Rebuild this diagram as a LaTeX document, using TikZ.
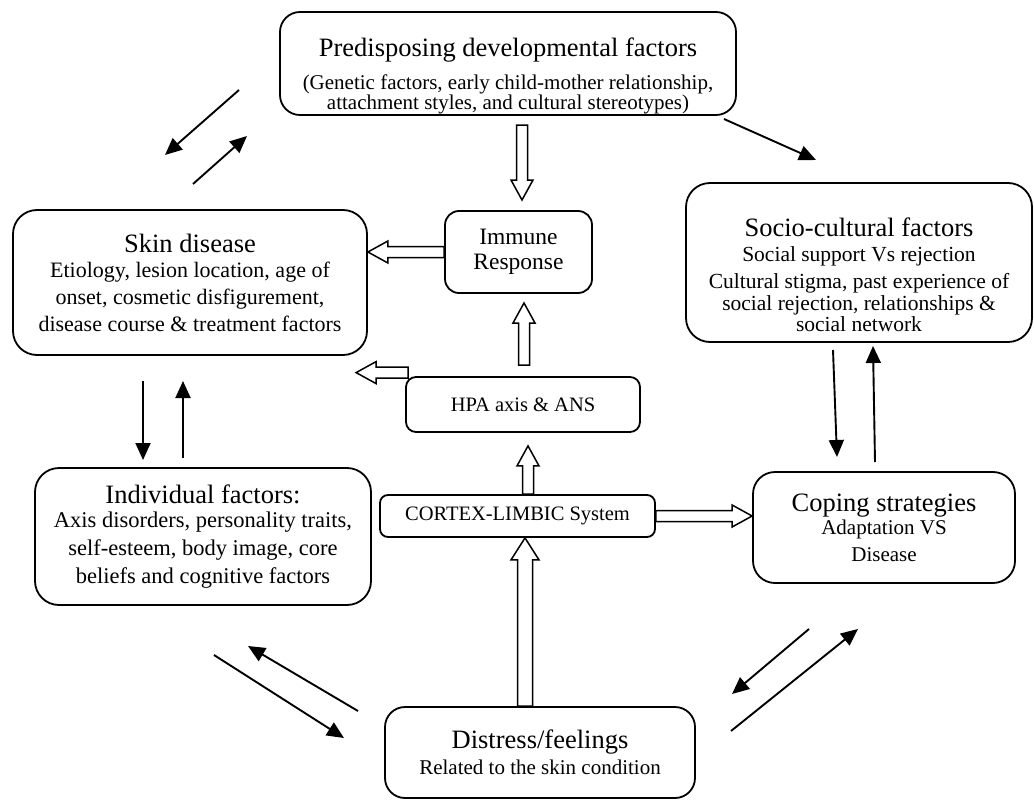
\documentclass[tikz,border=0pt]{standalone}
\usepackage{fontspec}
\setmainfont{Liberation Serif}
\usetikzlibrary{arrows.meta,calc}

\newcommand{\headfont}{\fontsize{26.5}{30}\selectfont}
% outlined block arrow: shaft half width #1, head half width #2, head length #3, tail #4, tip #5
\newcommand{\blockarrw}[5]{%
  \coordinate (ba) at ($(#5)!#3!(#4)$);
  \path[blockarrow] ($(#4)!#1!90:(#5)$) -- ($(ba)!#1!90:(#5)$) -- ($(ba)!#2!90:(#5)$) -- (#5)
    -- ($(ba)!#2!-90:(#5)$) -- ($(ba)!#1!-90:(#5)$) -- ($(#4)!#1!-90:(#5)$) -- cycle;}
\newcommand{\blockarr}[2]{\blockarrw{5.5pt}{11pt}{20pt}{#1}{#2}}

\begin{document}
\begin{tikzpicture}[x=1pt,y=1pt]
        \tikzstyle{factor}=[draw, line width=1.8pt, align=center, inner sep=0pt]
        \tikzstyle{edge}=[draw, line width=1.9pt, -{Triangle[length=17pt,width=15pt]}]
        \tikzstyle{blockarrow}=[draw, line width=1.5pt, fill=white, line join=miter]
        \fill[white] (0,0) rectangle (1034,-800);
        \useasboundingbox (0,0) rectangle (1034,-800);

        % boxes
        \node [factor, minimum width=456pt, minimum height=103pt, rounded corners=20pt, font=\fontsize{21}{19}\selectfont] (pre) at (508,-63.5)
          {\headfont\rule{0pt}{44pt}Predisposing developmental factors\\[11pt] (Genetic factors, early child-mother relationship,\\ attachment styles, and cultural stereotypes)};
        \node [factor, minimum width=354pt, minimum height=145pt, rounded corners=24pt, font=\fontsize{22}{27}\selectfont] (skin) at (190,-282.5)
          {{\headfont Skin disease}\\[-2pt] Etiology, lesion location, age of\\ onset, cosmetic disfigurement,\\ disease course \& treatment factors};
        \node [factor, minimum width=147pt, minimum height=82pt, rounded corners=14pt, font=\fontsize{23.5}{25}\selectfont] (immune) at (518.5,-252)
          {Immune\\ Response};
        \node [factor, minimum width=346pt, minimum height=159pt, rounded corners=24pt, font=\fontsize{21.5}{21.5}\selectfont] (socio) at (859,-262.5)
          {\headfont\rule{0pt}{44pt}Socio-cultural factors\\[3.5pt] Social support Vs rejection\\[5.5pt] Cultural stigma, past experience of\\ social rejection, relationships \&\\ social network};
        \node [factor, minimum width=234pt, minimum height=55pt, rounded corners=10pt, font=\fontsize{20.5}{24}\selectfont] (hpa) at (523,-404.5)
          {HPA axis \& ANS};
        \node [factor, minimum width=275pt, minimum height=42pt, rounded corners=8pt, font=\fontsize{20.5}{24}\selectfont] (cortex) at (517.5,-516)
          {CORTEX-LIMBIC System};
        \node [factor, minimum width=336pt, minimum height=137pt, rounded corners=24pt, font=\fontsize{22.5}{28}\selectfont] (indiv) at (203,-536.5)
          {{\headfont Individual factors:}\\[-4.5pt] Axis disorders, personality traits,\\ self-esteem, body image, core\\ beliefs and cognitive factors};
        \node [factor, minimum width=262pt, minimum height=111pt, rounded corners=22pt, font=\fontsize{21}{27}\selectfont] (coping) at (884,-527.5)
          {{\headfont Coping strategies}\\[-4pt] Adaptation VS\\ Disease};
        \node [factor, minimum width=310pt, minimum height=91pt, rounded corners=20pt, font=\fontsize{21}{26}\selectfont] (distress) at (540,-752.5)
          {{\headfont Distress/feelings}\\ Related to the skin condition};

        % block arrows
        \coordinate (pre-out) at (522,-125);
        \coordinate (immune-in) at (522,-200);
        \blockarr{pre-out}{immune-in}
        \coordinate (skin-in) at (skin.east |- immune.west);
        \blockarr{immune.west}{skin-in}
        \coordinate (hpa-up) at (524,-365);
        \coordinate (immune-low) at (524,-303);
        \blockarr{hpa-up}{immune-low}
        \coordinate (hpa-side) at ($(hpa.north west)+(3,3.5)$);
        \coordinate (hpa-left) at ($(hpa-side)+(-52,0)$);
        \blockarr{hpa-side}{hpa-left}
        \coordinate (cortex-up) at ($(cortex.north)+(10.5,0)$);
        \coordinate (hpa-low) at ($(hpa.south)+(5,-13)$);
        \blockarr{cortex-up}{hpa-low}
        \coordinate (coping-in) at (coping.west |- cortex.east);
        \blockarr{cortex.east}{coping-in}
        \coordinate (cortex-low) at ($(cortex.south)+(7.5,0)$);
        \coordinate (distress-up) at (cortex-low |- distress.north);
        \blockarrw{7.5pt}{14pt}{22pt}{distress-up}{cortex-low}

        % feedback arrows
        \coordinate (pre-sw) at (239,-90);   \coordinate (skin-ne) at (165,-155);
        \coordinate (skin-up) at (193,-184); \coordinate (pre-in) at (247,-136);
        \coordinate (pre-se) at (724,-119);  \coordinate (socio-nw) at (816,-160);
        \path[edge] (pre-sw) -- (skin-ne);
        \path[edge] (skin-up) -- (pre-in);
        \path[edge] (pre-se) -- (socio-nw);
        \coordinate (skin-s) at (143,-381);  \coordinate (indiv-n) at (143,-460);
        \coordinate (indiv-up) at (183,-458); \coordinate (skin-s2) at (183,-381);
        \path[edge] (skin-s) -- (indiv-n);
        \path[edge] (indiv-up) -- (skin-s2);
        \coordinate (socio-s) at (833,-350); \coordinate (coping-n) at (837,-457);
        \coordinate (coping-up) at (875,-462); \coordinate (socio-s2) at (873,-346);
        \path[edge] (socio-s) -- (coping-n);
        \path[edge] (coping-up) -- (socio-s2);
        \coordinate (indiv-se) at (214,-655); \coordinate (distress-nw) at (344,-738);
        \coordinate (distress-w) at (358,-711); \coordinate (indiv-s) at (248,-646);
        \path[edge] (indiv-se) -- (distress-nw);
        \path[edge] (distress-w) -- (indiv-s);
        \coordinate (coping-sw) at (809,-629); \coordinate (distress-ne) at (732,-694);
        \coordinate (distress-e) at (731,-731); \coordinate (coping-s) at (858,-629);
        \path[edge] (coping-sw) -- (distress-ne);
        \path[edge] (distress-e) -- (coping-s);
\end{tikzpicture}
\end{document}
